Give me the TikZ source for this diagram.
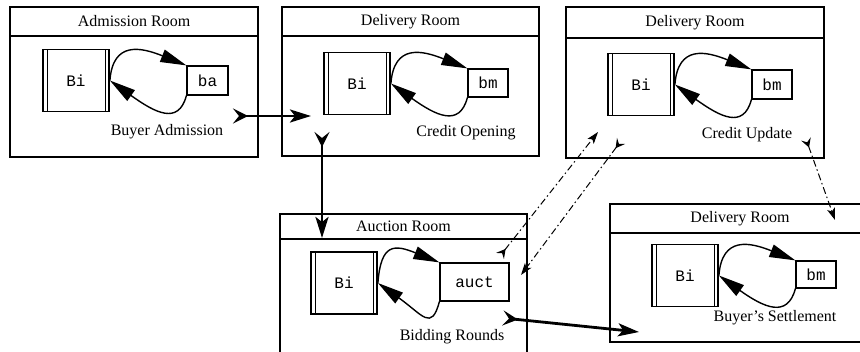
\documentclass[tikz,border=0pt]{standalone}
\usepackage{fontspec}
\setmainfont{Liberation Serif}
\setmonofont{Liberation Mono}
\usetikzlibrary{arrows.meta}

\tikzset{
  room/.style={draw, line width=1.2pt},
  roomtitle/.style={draw, line width=1.2pt, anchor=north, minimum height=29pt,
    font=\fontsize{16}{19}\selectfont},
  buyer/.style={draw, line width=1.8pt, minimum width=66pt, minimum height=62pt,
    font=\ttfamily\fontsize{16}{19}\selectfont,
    path picture={
      \draw[line width=0.8pt] ([xshift=4pt]path picture bounding box.north west)
        -- ([xshift=4pt]path picture bounding box.south west);
      \draw[line width=0.8pt] ([xshift=-4pt]path picture bounding box.north east)
        -- ([xshift=-4pt]path picture bounding box.south east);}},
  agent/.style={draw, line width=1.2pt, minimum width=41pt, minimum height=29pt,
    font=\ttfamily\fontsize{16}{19}\selectfont},
  roomlabel/.style={font=\fontsize{16}{19}\selectfont},
  callarc/.style={line width=1.4pt, -{Triangle[length=26pt,width=13pt]}},
  flow/.style={line width=2.8pt,
    {Stealth[reversed,length=15pt,width=15pt,inset=6pt]}-{Stealth[length=21pt,width=13pt,inset=5pt]}},
  msg/.style={line width=1pt, dash pattern=on 7pt off 3pt on 1.5pt off 3pt,
    {Stealth[reversed,length=9pt,width=10pt,inset=3.5pt]}-{Stealth[length=12pt,width=8pt,inset=3pt]}}
}

\begin{document}
\begin{tikzpicture}[x=1pt,y=1pt]
  \useasboundingbox (0,0) rectangle (860,-351);

  % Draw the rooms
  \node[room, minimum width=248pt, minimum height=150pt] (adm) at (134,-82) {};
  \node[roomtitle, minimum width=248pt] (admt) at (adm.north) {Admission Room};
  \node[room, minimum width=257pt, minimum height=149pt] (dlv) at (410.5,-81.5) {};
  \node[roomtitle, minimum width=257pt] (dlvt) at (dlv.north) {Delivery Room};
  \node[room, minimum width=258pt, minimum height=151pt] (upd) at (695,-82.5) {};
  \node[roomtitle, minimum width=258pt, minimum height=31pt] (updt) at (upd.north) {Delivery Room};
  \node[room, minimum width=247pt, minimum height=146pt] (auc) at (403.5,-287) {};
  \node[roomtitle, minimum width=247pt, minimum height=25pt] (auct) at (auc.north) {Auction Room};
  \node[room, minimum width=260pt, minimum height=138pt] (stl) at (740,-273) {};
  \node[roomtitle, minimum width=260pt] (stlt) at (stl.north) {Delivery Room};

  % Buyers and agents
  \node[buyer] (b1) at (76,-80.5) {Bi};
  \node[agent] (a1) at (207.5,-80.5) {ba};
  \node[buyer] (b2) at (357,-83.5) {Bi};
  \node[agent, minimum width=40pt, minimum height=28pt] (a2) at (488,-83) {bm};
  \node[buyer] (b3) at (641,-84.5) {Bi};
  \node[agent, minimum width=40pt] (a3) at (772,-84.5) {bm};
  \node[buyer] (b4) at (344,-283) {Bi};
  \node[agent, minimum width=69pt, minimum height=38pt] (a4) at (474.5,-282) {auct};
  \node[buyer] (b5) at (685,-275.5) {Bi};
  \node[agent, minimum width=40pt, minimum height=27pt] (a5) at (816,-274.5) {bm};

  % Add labels
  \node[roomlabel] (l1) at (167,-132) {Buyer Admission};
  \node[roomlabel] (l2) at (466,-133) {Credit Opening};
  \node[roomlabel] (l3) at (747,-135) {Credit Update};
  \node[roomlabel] (l4) at (452,-337) {Bidding Rounds};
  \node[roomlabel] (l5) at (775,-318) {Buyer's Settlement};

  % Draw the loops between buyer and agent
  \foreach \b/\a in {b1/a1, b2/a2, b3/a3, b4/a4, b5/a5} {
    \draw[callarc] (\b.east) .. controls +(3,40) and +(-45,18) .. (\a.north west);
    \draw[callarc] (\a.south west) .. controls +(-8,-30) and +(45,-32) .. (\b.east);
  }

  % Arrow end points
  \coordinate (f1s) at (233,-116);
  \coordinate (f1e) at (311,-116);
  \coordinate (f2s) at (322,-132);
  \coordinate (f2e) at (322,-238);
  \coordinate (f3s) at (503,-318);
  \coordinate (f3e) at (639,-332);
  \coordinate (m1s) at (500,-256);
  \coordinate (m1e) at (598,-132);
  \coordinate (m2s) at (621,-141);
  \coordinate (m2e) at (521,-275);
  \coordinate (m3s) at (806,-139);
  \coordinate (m3e) at (835,-220);

  % Draw the flow between rooms
  \draw[flow] (f1s) -- (f1e);
  \draw[flow] (f2s) -- (f2e);
  \draw[flow] (f3s) -- (f3e);
  \draw[msg] (m1s) -- (m1e);
  \draw[msg] (m2s) -- (m2e);
  \draw[msg] (m3s) -- (m3e);
\end{tikzpicture}
\end{document}
